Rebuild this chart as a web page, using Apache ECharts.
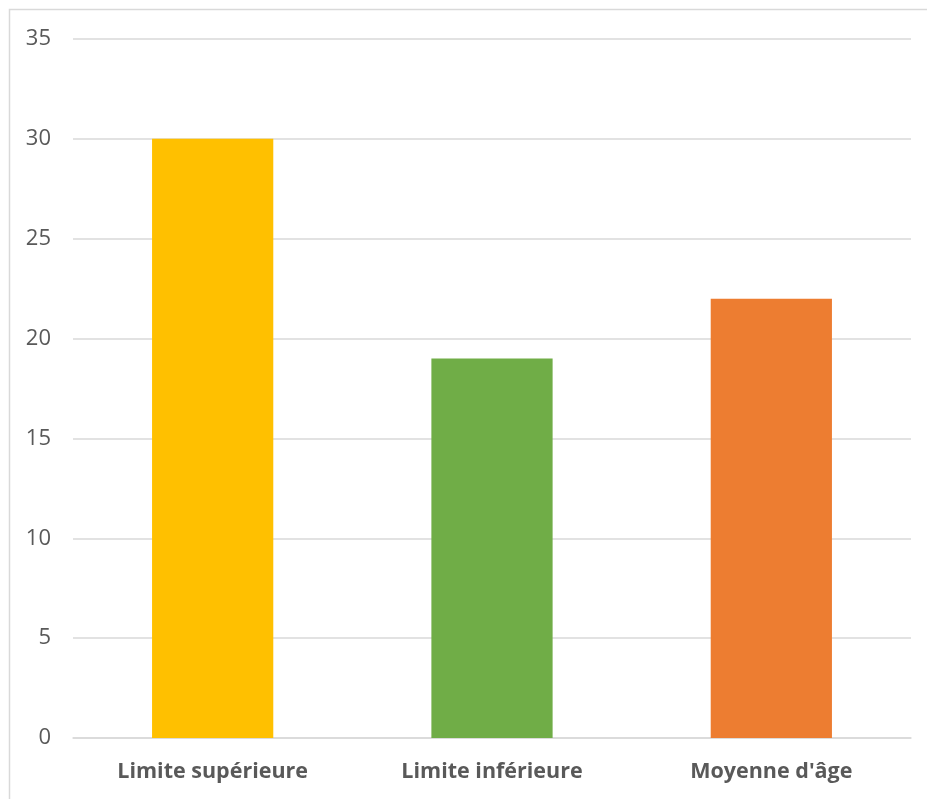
<!DOCTYPE html>
<html>
<head>
<meta charset="utf-8">
<script src="https://cdn.jsdelivr.net/npm/echarts@6/dist/echarts.min.js"></script>
<style>
  html, body { margin: 0; padding: 0; background: #ffffff; }
  #chart { width: 927px; height: 799px; }
</style>
</head>
<body>
<div id="chart"></div>
<script>
// Age limits and average age
const categories = ['Limite supérieure', 'Limite inférieure', "Moyenne d'âge"];
const values = [30, 19, 22];
const barColors = ['#FFC000', '#70AD47', '#ED7D31'];
const yTicks = { min: 0, max: 35, interval: 5 };

const chart = echarts.init(document.getElementById('chart'), null, { renderer: 'canvas' });

chart.setOption({
  animation: false,
  backgroundColor: '#ffffff',
  graphic: [{
    type: 'rect',
    shape: { x: 9.5, y: 9.5, width: 940, height: 820 },
    style: { fill: 'none', stroke: '#d9d9d9', lineWidth: 1.5 },
    silent: true,
    z: -1
  }],
  grid: { left: 73, right: 16, top: 39, bottom: 61 },
  xAxis: {
    type: 'category',
    data: categories,
    axisLine: { lineStyle: { color: '#d9d9d9', width: 1.5 } },
    axisTick: { show: false },
    axisLabel: {
      color: '#595959',
      fontFamily: '"Open Sans", sans-serif',
      fontWeight: 'bold',
      fontSize: 21.5,
      margin: 23
    }
  },
  yAxis: {
    type: 'value',
    min: yTicks.min,
    max: yTicks.max,
    interval: yTicks.interval,
    axisLine: { show: false },
    axisTick: { show: false },
    splitLine: { lineStyle: { color: '#d9d9d9', width: 1.5 } },
    axisLabel: {
      color: '#595959',
      fontFamily: '"Open Sans", sans-serif',
      fontSize: 22,
      margin: 22
    }
  },
  series: [{
    type: 'bar',
    barWidth: '43.4%',
    data: values.map((v, i) => ({ value: v, itemStyle: { color: barColors[i] } }))
  }]
});
</script>
</body>
</html>
